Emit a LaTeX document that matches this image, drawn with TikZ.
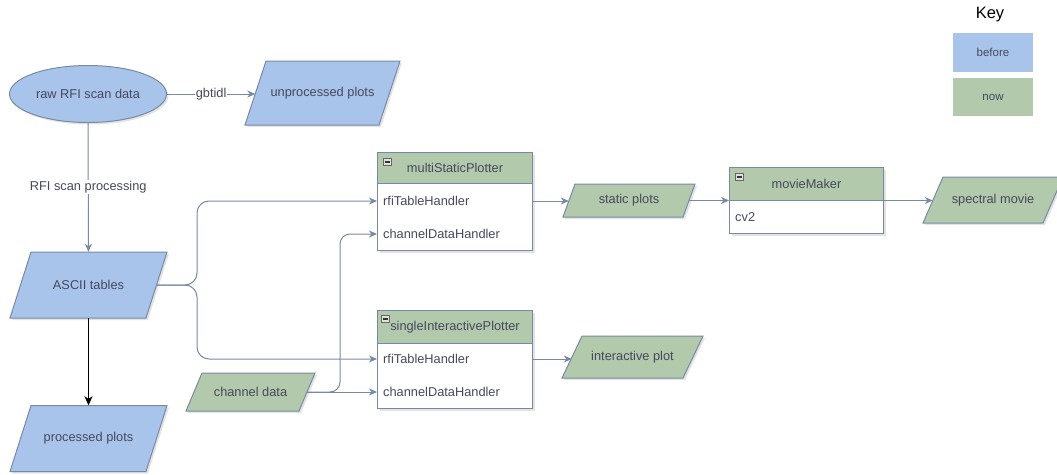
\documentclass[tikz,border=0pt]{standalone}
\usepackage{fontspec}
\setmainfont{Liberation Sans}
\usetikzlibrary{shapes.geometric,arrows.meta,shadows,calc}
\definecolor{bluefill}{HTML}{A9C4EB}
\definecolor{greenfill}{HTML}{B2C9AB}
\definecolor{edgecol}{HTML}{788AA3}
\definecolor{txt}{HTML}{46495D}
% name, cx, cy, total width, height, slant offset, fill, text
\newcommand\paranode[8]{%
  \path[parashape, fill=#7] (#2-#4/2+#6, #3-#5/2) -- (#2+#4/2, #3-#5/2) -- (#2+#4/2-#6, #3+#5/2) -- (#2-#4/2, #3+#5/2) -- cycle;
  \node[parainner, minimum width=#4-#6, minimum height=#5] (#1) at (#2,#3) {#8};%
}
\begin{document}
\begin{tikzpicture}[x=1pt,y=-1pt,
  every node/.style={font=\fontsize{12.8}{15}\selectfont, text=txt},
  shade/.style={drop shadow={opacity=0.22,shadow xshift=2pt,shadow yshift=-2pt}},
  parashape/.style={draw=edgecol, line width=1pt, shade},
  parainner/.style={rectangle, inner sep=0pt},
  ellbox/.style={ellipse, draw=edgecol, line width=1pt, fill=bluefill, shade, inner sep=0pt},
  classbody/.style={rectangle, draw=edgecol, line width=1pt, fill=white, shade, inner sep=0pt},
  classhead/.style={rectangle, draw=edgecol, line width=1pt, fill=greenfill, inner sep=0pt},
  row/.style={rectangle, text width=143pt, inner xsep=6pt, inner ysep=2pt, align=left},
  minusicon/.style={rectangle, draw=black!60, fill=black!12, line width=0.6pt, minimum width=8pt, minimum height=7pt, inner sep=0pt,
    path picture={\draw[black!80, line width=1.2pt] ([xshift=1.5pt]path picture bounding box.west) -- ([xshift=-1.5pt]path picture bounding box.east);}},
  conn/.style={draw=edgecol, line width=1pt, -{Stealth[length=8pt,width=7pt,inset=2.5pt]}},
  blackconn/.style={draw=black, line width=1.3pt, -{Stealth[length=9pt,width=8pt,inset=2.5pt]}},
  lbl/.style={fill=white, inner sep=1pt},
  keybox/.style={rectangle, minimum width=80pt, inner sep=0pt, font=\fontsize{11.5}{14}\selectfont},
]
\useasboundingbox (0,0) rectangle (1057,474);

% left column
\node[ellbox, minimum width=157pt, minimum height=57pt] (raw) at (88,94) {raw RFI scan data};
\paranode{unproc}{322.5}{93}{155}{64}{21}{bluefill}{unprocessed plots}
\paranode{ascii}{88.5}{285}{157}{66}{21}{bluefill}{ASCII tables}
\paranode{processed}{88.5}{438.5}{157}{66}{21}{bluefill}{processed plots}
\paranode{chan}{250.5}{392}{129}{38}{16}{greenfill}{channel data}

% multiStaticPlotter
\node[classbody, anchor=north west, minimum width=155pt, minimum height=98pt] (ms) at (377,152) {};
\node[classhead, anchor=north west, minimum width=155pt, minimum height=31pt] (mshead) at (377,152) {multiStaticPlotter};
\node[minusicon] (msicon) at (387,162) {};
\node[row, anchor=west] (msrfi) at (377,201) {rfiTableHandler};
\node[row, anchor=west] (mschan) at (377,234) {channelDataHandler};

% singleInteractivePlotter
\node[classbody, anchor=north west, minimum width=155pt, minimum height=98pt] (si) at (377,310) {};
\node[classhead, anchor=north west, minimum width=155pt, minimum height=33pt] (sihead) at (377,310) {singleInteractivePlotter};
\node[minusicon] (siicon) at (385,319) {};
\node[row, anchor=west] (sirfi) at (377,359) {rfiTableHandler};
\node[row, anchor=west] (sichan) at (377,392) {channelDataHandler};

% movieMaker
\node[classbody, anchor=north west, minimum width=154pt, minimum height=66pt] (mm) at (729,167) {};
\node[classhead, anchor=north west, minimum width=154pt, minimum height=33pt] (mmhead) at (729,167) {movieMaker};
\node[minusicon] (mmicon) at (739,177) {};
\node[row, anchor=west, text width=142pt] (mmcv) at (729,217) {cv2};

% outputs
\paranode{static}{629}{200.5}{132}{33}{12}{greenfill}{static plots}
\paranode{interactive}{632.5}{357}{141}{42}{20}{greenfill}{interactive plot}
\paranode{spectral}{993}{200}{140}{46}{20}{greenfill}{spectral movie}

% key
\node[text=black, font=\fontsize{16.5}{19}\selectfont] (keytitle) at (990,15) {Key};
\node[keybox, fill=bluefill, minimum height=39pt] (keybefore) at (993,52.5) {before};
\node[keybox, fill=greenfill, minimum height=38pt] (keynow) at (993,97) {now};

% connectors
\draw[conn] (raw) -- node[lbl] {gbtidl} (raw -| unproc.west);
\draw[conn] (raw) -- node[lbl] {RFI scan processing} (ascii);
\draw[blackconn] (ascii) -- (processed);

\coordinate (split) at (197,285);
\draw[conn, rounded corners=12pt] (ascii.east) -- (split) |- (msrfi.west);
\draw[conn, rounded corners=12pt] (ascii.east) -- (split) |- (sirfi.west);

\coordinate (csplit) at (340,392);
\draw[conn, rounded corners=10pt] (chan.east) -- (csplit) |- (mschan.west);
\draw[conn] (chan.east) -- (sichan.west);

\draw[conn] (msrfi.east) -- (msrfi.east -| static.west);
\draw[conn] (static.east) -- (static.east -| mm.west);
\draw[conn] (mm.east) -- (mm.east -| spectral.west);
\draw[conn] (sirfi.east) -- (sirfi.east -| interactive.west);
\end{tikzpicture}
\end{document}
